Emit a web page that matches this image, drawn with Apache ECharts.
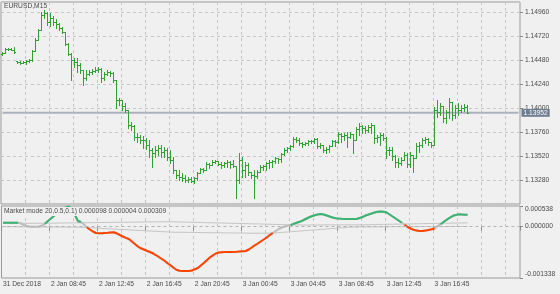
<!DOCTYPE html>
<html>
<head>
<meta charset="utf-8">
<script src="https://cdn.jsdelivr.net/npm/echarts@6/dist/echarts.min.js"></script>
<style>
html,body{margin:0;padding:0;background:#f0f0f0;}
#chart{width:560px;height:294px;}
</style>
</head>
<body>
<div id="chart"></div>
<script>
// ---------------- DATA ----------------
const symbolTitle = 'EURUSD,M15';
const indicatorTitle = 'Market mode 20,0.5,0.1) 0.000098 0.000004 0.000309';
// x-axis tick labels, one every 16 bars (4 hours of M15 bars)
const tickLabels = ['31 Dec 2018','2 Jan 08:45','2 Jan 12:45','2 Jan 16:45','2 Jan 20:45',
  '3 Jan 00:45','3 Jan 04:45','3 Jan 08:45','3 Jan 12:45','3 Jan 16:45'];
const tickStep = 16;
const gridStep = 8;
const emptySlots = 17; // chart shift space on the right

const open = [
1.1454,1.1455,1.1459,1.1459,1.1458,1.1447,1.1446,1.1445,1.1446,1.1447,
1.1448,1.1457,1.1468,1.1478,1.1493,1.1495,1.1486,1.1490,1.1486,1.1484,
1.1480,1.1476,1.1464,1.1454,1.1448,1.1446,1.1443,1.1438,1.1430,1.1434,
1.1436,1.1437,1.1438,1.1439,1.1430,1.1434,1.1436,1.1435,1.1428,1.1408,
1.1408,1.1402,1.1398,1.1383,1.1382,1.1371,1.1371,1.1368,1.1368,1.1363,
1.1358,1.1355,1.1358,1.1360,1.1356,1.1358,1.1351,1.1348,1.1338,1.1333,
1.1331,1.1330,1.1328,1.1329,1.1327,1.1330,1.1335,1.1339,1.1338,1.1344,
1.1343,1.1346,1.1347,1.1344,1.1343,1.1345,1.1346,1.1344,1.1342,1.1328,
1.1348,1.1338,1.1343,1.1336,1.1333,1.1332,1.1336,1.1341,1.1342,1.1345,
1.1346,1.1347,1.1350,1.1349,1.1354,1.1358,1.1360,1.1362,1.1369,1.1368,
1.1365,1.1364,1.1365,1.1367,1.1367,1.1369,1.1362,1.1363,1.1358,1.1359,
1.1362,1.1367,1.1366,1.1374,1.1372,1.1373,1.1371,1.1374,1.1368,1.1379,
1.1382,1.1380,1.1378,1.1381,1.1383,1.1370,1.1371,1.1373,1.1370,1.1358,
1.1358,1.1352,1.1346,1.1345,1.1348,1.1353,1.1344,1.1353,1.1350,1.1362,
1.1363,1.1368,1.1369,1.1366,1.1363,1.1398,1.1396,1.1402,1.1390,1.1396,
1.1406,1.1393,1.1400,1.1398,1.1400,1.1401];
const high = [
1.1456,1.1460,1.1460,1.1460,1.1461,1.1447,1.1447,1.1447,1.1448,1.1449,
1.1458,1.1470,1.1479,1.1496,1.1498,1.1496,1.1495,1.1492,1.1489,1.1485,
1.1481,1.1476,1.1465,1.1455,1.1450,1.1450,1.1445,1.1438,1.1438,1.1438,
1.1439,1.1441,1.1441,1.1440,1.1436,1.1438,1.1437,1.1436,1.1428,1.1410,
1.1408,1.1405,1.1398,1.1386,1.1383,1.1375,1.1373,1.1372,1.1370,1.1368,
1.1360,1.1362,1.1363,1.1363,1.1361,1.1360,1.1358,1.1351,1.1338,1.1338,
1.1335,1.1333,1.1331,1.1331,1.1331,1.1336,1.1340,1.1340,1.1346,1.1345,
1.1348,1.1348,1.1347,1.1346,1.1346,1.1348,1.1347,1.1348,1.1342,1.1355,
1.1351,1.1346,1.1345,1.1336,1.1338,1.1338,1.1343,1.1343,1.1346,1.1348,
1.1348,1.1351,1.1350,1.1355,1.1360,1.1361,1.1363,1.1371,1.1371,1.1370,
1.1366,1.1366,1.1368,1.1368,1.1370,1.1370,1.1365,1.1363,1.1361,1.1363,
1.1368,1.1368,1.1376,1.1375,1.1375,1.1376,1.1376,1.1374,1.1381,1.1385,
1.1383,1.1382,1.1383,1.1385,1.1383,1.1373,1.1375,1.1375,1.1371,1.1361,
1.1361,1.1353,1.1350,1.1351,1.1356,1.1355,1.1356,1.1353,1.1365,1.1366,
1.1370,1.1371,1.1370,1.1366,1.1401,1.1408,1.1405,1.1402,1.1398,1.1410,
1.1406,1.1403,1.1405,1.1403,1.1404,1.1403];
const low = [
1.1453,1.1455,1.1458,1.1458,1.1455,1.1445,1.1444,1.1445,1.1444,1.1446,
1.1447,1.1457,1.1468,1.1478,1.1490,1.1483,1.1482,1.1483,1.1480,1.1478,
1.1475,1.1463,1.1453,1.1428,1.1441,1.1436,1.1435,1.1423,1.1428,1.1433,
1.1434,1.1436,1.1436,1.1426,1.1428,1.1433,1.1432,1.1426,1.1400,1.1403,
1.1398,1.1396,1.1380,1.1378,1.1368,1.1366,1.1365,1.1360,1.1359,1.1351,
1.1341,1.1351,1.1353,1.1351,1.1351,1.1348,1.1345,1.1335,1.1330,1.1328,
1.1327,1.1326,1.1326,1.1326,1.1325,1.1328,1.1335,1.1336,1.1338,1.1340,
1.1343,1.1345,1.1343,1.1340,1.1341,1.1341,1.1340,1.1341,1.1310,1.1325,
1.1331,1.1331,1.1333,1.1330,1.1310,1.1330,1.1336,1.1338,1.1338,1.1340,
1.1341,1.1345,1.1345,1.1346,1.1353,1.1356,1.1358,1.1361,1.1366,1.1363,
1.1361,1.1363,1.1363,1.1365,1.1365,1.1360,1.1360,1.1356,1.1355,1.1356,
1.1362,1.1362,1.1365,1.1366,1.1368,1.1361,1.1370,1.1355,1.1368,1.1373,
1.1375,1.1375,1.1376,1.1375,1.1365,1.1366,1.1363,1.1368,1.1350,1.1353,
1.1348,1.1341,1.1341,1.1343,1.1348,1.1341,1.1341,1.1336,1.1350,1.1356,
1.1361,1.1365,1.1363,1.1361,1.1363,1.1391,1.1393,1.1386,1.1385,1.1390,
1.1388,1.1390,1.1393,1.1396,1.1397,1.1395];
const close = [
1.1455,1.1459,1.1459,1.1458,1.1456,1.1446,1.1445,1.1446,1.1447,1.1448,
1.1457,1.1468,1.1478,1.1493,1.1495,1.1486,1.1490,1.1486,1.1484,1.1480,
1.1476,1.1464,1.1454,1.1448,1.1446,1.1443,1.1438,1.1430,1.1434,1.1436,
1.1437,1.1438,1.1439,1.1430,1.1434,1.1436,1.1435,1.1428,1.1408,1.1408,
1.1402,1.1398,1.1383,1.1382,1.1371,1.1371,1.1368,1.1368,1.1363,1.1358,
1.1355,1.1358,1.1360,1.1356,1.1358,1.1351,1.1348,1.1338,1.1333,1.1331,
1.1330,1.1328,1.1329,1.1327,1.1330,1.1335,1.1339,1.1338,1.1344,1.1343,
1.1346,1.1347,1.1344,1.1343,1.1345,1.1346,1.1344,1.1342,1.1328,1.1348,
1.1338,1.1343,1.1336,1.1333,1.1332,1.1336,1.1341,1.1342,1.1345,1.1346,
1.1347,1.1350,1.1349,1.1354,1.1358,1.1360,1.1362,1.1369,1.1368,1.1365,
1.1364,1.1365,1.1367,1.1367,1.1369,1.1362,1.1363,1.1358,1.1359,1.1362,
1.1367,1.1366,1.1374,1.1372,1.1373,1.1371,1.1374,1.1368,1.1379,1.1382,
1.1380,1.1378,1.1381,1.1383,1.1370,1.1371,1.1373,1.1370,1.1358,1.1358,
1.1352,1.1346,1.1345,1.1348,1.1353,1.1344,1.1353,1.1350,1.1362,1.1363,
1.1368,1.1369,1.1366,1.1363,1.1398,1.1396,1.1402,1.1390,1.1396,1.1406,
1.1393,1.1400,1.1398,1.1400,1.1401,1.13952];

// Market mode indicator, values in units of 1e-6
const mmMain = [
103,103,103,103,103,103,82,43,17,-1,
-1,-1,4,30,74,147,212,277,356,421,
478,499,525,460,304,147,120,60,-22,-74,
-126,-165,-173,-171,-165,-160,-152,-147,-178,-218,
-257,-291,-322,-387,-452,-517,-564,-595,-629,-661,
-694,-739,-791,-843,-895,-960,-1012,-1077,-1130,-1150,
-1156,-1156,-1156,-1143,-1111,-1077,-1012,-947,-877,-804,
-747,-700,-674,-666,-661,-661,-661,-661,-655,-647,
-640,-634,-595,-543,-486,-439,-387,-335,-283,-218,
-170,-113,-61,-22,4,27,43,74,100,126,
160,199,238,272,298,317,330,317,291,264,
238,220,212,205,199,199,199,199,199,225,
251,291,317,343,369,390,395,390,369,317,
264,212,160,108,48,-9,-48,-82,-103,-113,
-113,-103,-87,-69,-48,17,64,121,178,231,
277,304,320,316,312,309];
const mmUpper = [
87,87,87,87,87,87,87,87,87,87,
88,88,89,89,90,90,91,92,93,94,
95,96,97,98,99,100,101,102,103,104,105,106,107,108,109,110,111,112,113,114,
115,116,117,118,119,120,121,122,123,124,125,126,126,127,127,128,128,
126,124,122,120,118,116,114,112,110,108,106,104,102,100,98,96,94,92,90,88,
86,84,82,80,78,76,74,72,70,68,66,64,62,60,58,56,54,52,50,48,46,45,44,43,
43,43,44,44,44,45,45,45,46,46,46,47,47,47,48,48,48,48,48,48,
50,51,53,54,56,57,59,60,62,63,65,66,68,69,71,72,74,75,77,78,
80,81,83,84,86,87,89,90,92,93,95,96,97,98,98];
const mmLower = [
-1,-1,-2,-2,-3,-3,-4,-4,-5,-5,-6,-6,-7,-7,-8,-8,-9,-9,-10,-10,-11,-11,-12,-12,-13,-14,
-16,-20,-25,-29,-33,-37,-41,-46,-50,-54,-58,-62,-67,-71,-75,-79,-83,-88,-92,-96,
-100,-104,-109,-113,-117,-121,-125,-130,-134,-138,-143,
-145,-146,-147,-148,-149,-150,-151,-152,-153,-154,-155,-156,-157,-158,-159,-160,
-161,-162,-163,-164,-165,-166,-167,-168,-169,-170,-171,
-172,-172,-171,-171,-170,-169,-167,
-162,-156,-150,-144,-138,-132,-126,-120,-114,-108,-102,-96,-90,-84,-78,-72,-66,
-60,-54,-48,-42,-36,-30,-24,-18,-12,
-10,-9,-8,-7,-6,-6,-5,-5,-4,-4,-3,-3,-2,-2,-1,-1,0,0,1,1,
1,1,2,2,2,2,2,3,3,3,3,3,3,4,4,4,4,4,4];
const mmMax = 538, mmMin = -1338; // window scale of the indicator (1e-6 units)

const priceMin = 1.1304, priceMax = 1.1506, priceStep = 0.0024;

// ---------------- BUILD ----------------
const nBars = close.length;
const categories = [];
for (let i = 0; i < nBars + emptySlots; i++) categories.push(String(i));
const ohlc = close.map((c, i) => [i, open[i], high[i], low[i], c]);
const lastClose = close[nBars - 1];
const priceLineData = categories.map(() => lastClose);

const state = mmMain.map((v, i) => v > mmUpper[i] ? 'g' : (v < mmLower[i] ? 'o' : 'n'));
function colored(tag) {
  return mmMain.map((v, i) => (state[i] === tag || state[i + 1] === tag) ? v : null);
}

const FONT = 'Liberation Sans';
const FS = 6.7;
const TXT = '#4a4a4a';
const GRIDC = '#c6c6c6';
const BARC = '#33a033';

const chart = echarts.init(document.getElementById('chart'), null, {renderer: 'canvas'});
chart.setOption({
  backgroundColor: '#f0f0f0',
  animation: false,
  textStyle: {fontFamily: FONT},
  title: [
    {text: symbolTitle, left: 3, top: 2, padding: [1, 1],
     textStyle: {fontSize: FS, fontWeight: 'normal', color: TXT, fontFamily: FONT}},
    {text: indicatorTitle, left: 3, top: 207, padding: [1, 1], backgroundColor: '#f0f0f0',
     textStyle: {fontSize: FS, fontWeight: 'normal', color: TXT, fontFamily: FONT}}
  ],
  grid: [
    {left: 1, top: 2, width: 519, height: 202, show: true, borderColor: '#9a9a9a', borderWidth: 1},
    {left: 1, top: 206, width: 519, height: 72, show: true, borderColor: '#9a9a9a', borderWidth: 1}
  ],
  xAxis: [
    {type: 'category', gridIndex: 0, data: categories, boundaryGap: true,
     axisLine: {show: false}, axisTick: {show: false}, axisLabel: {show: false},
     splitLine: {show: true, interval: (i) => i % gridStep === 0 && i > 0,
                 lineStyle: {color: GRIDC, type: [3, 3], width: 1}}},
    {type: 'category', gridIndex: 1, data: categories, boundaryGap: true,
     axisLine: {show: false},
     axisTick: {show: true, length: 4, interval: (i) => i % tickStep === 0, lineStyle: {color: '#8a8a8a'}},
     axisLabel: {show: true, interval: (i) => i % tickStep === 0, align: 'left', margin: 3,
                 fontSize: FS, color: TXT, fontFamily: FONT,
                 formatter: (v, i) => tickLabels[Math.round(i / tickStep)] || ''},
     splitLine: {show: true, interval: (i) => i % gridStep === 0 && i > 0,
                 lineStyle: {color: GRIDC, type: [3, 3], width: 1}}}
  ],
  yAxis: [
    {type: 'value', gridIndex: 0, position: 'right', min: priceMin, max: priceMax, interval: priceStep,
     axisLine: {show: false},
     axisTick: {show: true, length: 3, lineStyle: {color: '#8a8a8a'}},
     axisLabel: {show: true, margin: 5, fontSize: FS, color: TXT, fontFamily: FONT,
                 showMinLabel: false, showMaxLabel: false, formatter: (v) => v.toFixed(5)},
     splitLine: {show: true, lineStyle: {color: GRIDC, type: [3, 3], width: 1}}},
    {type: 'value', gridIndex: 1, position: 'right', min: mmMin, max: mmMax,
     axisLine: {show: false},
     axisTick: {show: true, length: 3, customValues: [mmMax, 0, mmMin], lineStyle: {color: '#8a8a8a'}},
     axisLabel: {show: true, margin: 5, fontSize: FS, color: TXT, fontFamily: FONT,
                 customValues: [mmMax, 0, mmMin],
                 formatter: (v) => {
                   const s = (v / 1e6).toFixed(6);
                   if (v >= mmMax) return '{t|' + s + '}';
                   if (v <= mmMin) return '{b|' + s + '}';
                   return '{m|' + s + '}';
                 },
                 rich: {
                   t: {fontSize: FS, color: TXT, fontFamily: FONT, padding: [6, 0, 0, 0]},
                   b: {fontSize: FS, color: TXT, fontFamily: FONT, padding: [0, 0, 8, 0]},
                   m: {fontSize: FS, color: TXT, fontFamily: FONT}
                 }},
     splitLine: {show: false}}
  ],
  series: [
    {type: 'line', xAxisIndex: 0, yAxisIndex: 0, data: priceLineData, z: 1, silent: true,
     symbol: 'none', lineStyle: {color: '#aab1bd', width: 2},
     endLabel: {show: true, distance: 3, formatter: () => lastClose.toFixed(5),
                backgroundColor: '#6e7e92', color: '#ffffff', padding: [1, 2, 0, 2],
                fontSize: FS, fontFamily: FONT}},
    {type: 'custom', xAxisIndex: 0, yAxisIndex: 0, z: 3, data: ohlc,
     encode: {x: 0, y: [1, 2, 3, 4]},
     renderItem: function (params, api) {
       const idx = api.value(0);
       const xc = api.coord([idx, api.value(2)])[0];
       const x = Math.floor(xc) + 0.5;
       const yH = Math.round(api.coord([idx, api.value(2)])[1]);
       const yL = Math.round(api.coord([idx, api.value(3)])[1]);
       const yO = Math.round(api.coord([idx, api.value(1)])[1]) + 0.5;
       const yC = Math.round(api.coord([idx, api.value(4)])[1]) + 0.5;
       const st = {stroke: BARC, lineWidth: 1};
       return {type: 'group', children: [
         {type: 'line', shape: {x1: x, y1: yH, x2: x, y2: yL + 1}, style: st},
         {type: 'line', shape: {x1: x - 1.5, y1: yO, x2: x, y2: yO}, style: st},
         {type: 'line', shape: {x1: x, y1: yC, x2: x + 1.5, y2: yC}, style: st}
       ]};
     }},
    {type: 'line', xAxisIndex: 1, yAxisIndex: 1, data: mmUpper, symbol: 'none', z: 2,
     lineStyle: {color: '#c4c4c4', width: 1},
     markLine: {symbol: 'none', silent: true, label: {show: false},
       lineStyle: {color: '#b4b4b4', type: [3, 3], width: 1}, data: [{yAxis: 0}]}},
    {type: 'line', xAxisIndex: 1, yAxisIndex: 1, data: mmLower, symbol: 'none', z: 2,
     lineStyle: {color: '#c4c4c4', width: 1}},
    {type: 'line', xAxisIndex: 1, yAxisIndex: 1, data: mmMain, symbol: 'none', z: 3,
     lineStyle: {color: '#bdbdbd', width: 2}},
    {type: 'line', xAxisIndex: 1, yAxisIndex: 1, data: colored('g'), symbol: 'none', z: 4,
     lineStyle: {color: '#3cb371', width: 2}},
    {type: 'line', xAxisIndex: 1, yAxisIndex: 1, data: colored('o'), symbol: 'none', z: 4,
     lineStyle: {color: '#ff4500', width: 2}}
  ]
});
</script>
</body>
</html>
